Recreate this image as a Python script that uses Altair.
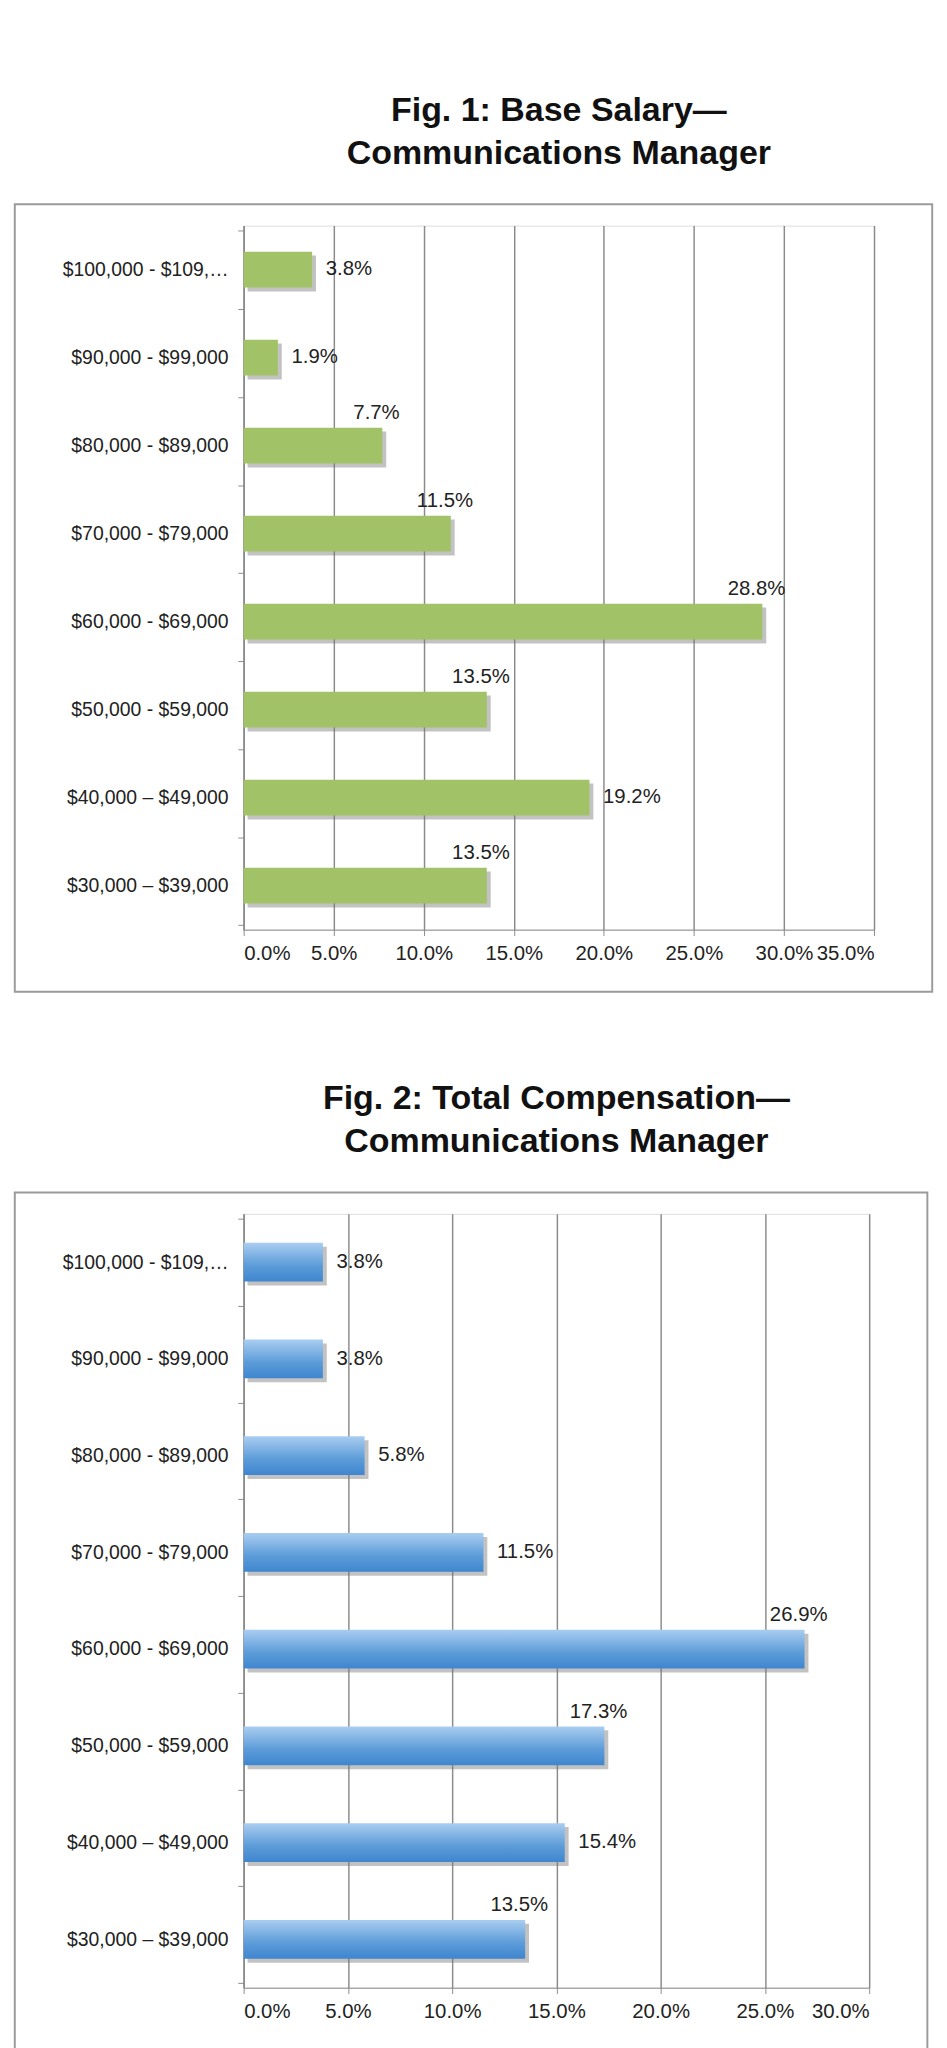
import pandas as pd
import altair as alt

# Salary bands (top to bottom, as shown)
bands = ['$100,000 - $109,000', '$90,000 - $99,000', '$80,000 - $89,000', '$70,000 - $79,000',
         '$60,000 - $69,000', '$50,000 - $59,000', '$40,000 – $49,000', '$30,000 – $39,000']
base_pct = [3.8, 1.9, 7.7, 11.5, 28.8, 13.5, 19.2, 13.5]
base_above = [False, False, True, True, True, True, False, True]
total_pct = [3.8, 3.8, 5.8, 11.5, 26.9, 17.3, 15.4, 13.5]
total_above = [False, False, False, False, True, True, False, True]

FONT = 'Liberation Sans'


def figure(pct, above, title, xmax, fill, w, h, bar_size):
    df = pd.DataFrame({'band': bands, 'pct': pct, 'above': above})
    df['label'] = df['pct'].map(lambda v: f'{v:.1f}%')
    x = alt.X('pct:Q', scale=alt.Scale(domain=[0, xmax], nice=False), title=None,
              axis=alt.Axis(labelExpr="format(datum.value, '.1f') + '%'",
                            values=list(range(0, xmax + 1, 5)), labelOverlap=False,
                            grid=True, gridColor='#8a8a8a', gridWidth=1.5,
                            domainColor='#8a8a8a', tickColor='#8a8a8a', tickSize=6,
                            labelFontSize=21, labelColor='#222', labelPadding=8, labelFont=FONT))
    y = alt.Y('band:N', sort=bands, title=None,
              axis=alt.Axis(tickBand='extent', tickColor='#8a8a8a', tickSize=6,
                            domainColor='#8a8a8a', domainWidth=1.5, labelFontSize=20,
                            labelColor='#222', labelPadding=10, labelFont=FONT, grid=False))
    base = alt.Chart(df)
    shadow = base.mark_bar(size=bar_size, color='#777', opacity=0.45, xOffset=4, yOffset=4).encode(x=x, y=y)
    bars = base.mark_bar(size=bar_size, color=fill).encode(x=x, y=y)
    lab_right = base.transform_filter('!datum.above').mark_text(
        align='left', dx=14, fontSize=21, font=FONT, color='#222').encode(x=x, y=y, text='label:N')
    lab_above = base.transform_filter('datum.above').mark_text(
        align='center', dy=-bar_size / 2 - 15, dx=-6, fontSize=21, font=FONT, color='#222').encode(
        x=x, y=y, text='label:N')
    box = alt.Chart(pd.DataFrame({'k': [0]})).mark_rect(
        filled=False, stroke='#9a9a9a', strokeWidth=2, clip=False).encode(
        x=alt.value(-236), x2=alt.value(w + 60), y=alt.value(-22), y2=alt.value(h + 64))
    return alt.layer(box, shadow, bars, lab_right, lab_above).properties(
        width=w, height=h,
        title=alt.TitleParams(title, fontSize=35, font=FONT, fontWeight='bold', color='#111',
                              anchor='middle', offset=34, lineHeight=44))


green = '#a2c268'
blue = alt.Gradient(gradient='linear', x1=0, x2=0, y1=0, y2=1,
                    stops=[alt.GradientStop(color='#a9cdf0', offset=0),
                           alt.GradientStop(color='#5b9bd8', offset=0.6),
                           alt.GradientStop(color='#3f86cf', offset=1)])

fig1 = figure(base_pct, base_above, ['Fig. 1: Base Salary—', 'Communications Manager'],
              35, green, 650, 726, 37)
fig2 = figure(total_pct, total_above, ['Fig. 2: Total Compensation—', 'Communications Manager'],
              30, blue, 645, 798, 40)

chart = alt.vconcat(fig1, fig2, spacing=90).properties(
    padding={'top': 55, 'left': 5, 'right': 5, 'bottom': 5}
).configure_view(stroke=None).configure(background='white')

chart.save('out.html', embed_options={'renderer': 'svg', 'actions': False})
